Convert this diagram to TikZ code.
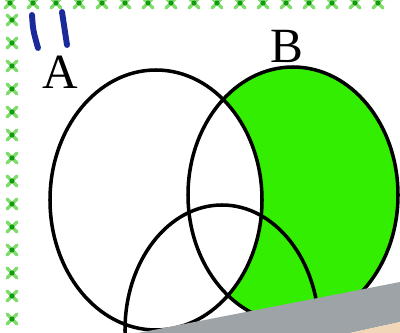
\documentclass[tikz,border=0pt]{standalone}
\usepackage{fontspec}
\setmainfont{Liberation Serif}
\definecolor{ShadeGreen}{HTML}{33EE00}
\definecolor{InkBlue}{HTML}{1A2A9A}
\definecolor{StarGreen}{HTML}{7FDC6A}
\definecolor{StarDark}{HTML}{139A13}
\definecolor{PageGray}{HTML}{9EA3A8}
\definecolor{SkinTone}{HTML}{F2D6B8}
\usepackage{tikz}
\usetikzlibrary{positioning}

\begin{document}
\begin{tikzpicture}[x=0.025cm, y=-0.025cm,
    setline/.style={line width=2.5pt, black},
    setlabel/.style={font=\fontsize{35}{35}\selectfont, inner sep=0pt},
    starmark/.style={StarGreen, line width=2.4pt, line cap=round},
    stardot/.style={StarDark},
    penstroke/.style={InkBlue, line width=4.2pt, line cap=round}]
  \useasboundingbox (0,0) rectangle (400,333);
  % shaded part: B outside A
  \fill[ShadeGreen] (293,195) ellipse [x radius=105, y radius=128];
  \fill[white] (156,200) ellipse [x radius=106, y radius=130];
  % the three sets
  \draw[setline] (156,200) ellipse [x radius=106, y radius=130];
  \draw[setline] (293,195) ellipse [x radius=105, y radius=128];
  \draw[setline] (222,330) ellipse [x radius=97, y radius=125];
  \node[setlabel] (labA) at (60,72) {A};
  \node[setlabel] (labB) at (287,46) {B};
  % page edge
  \fill[PageGray] (138,333) -- (400,282) -- (400,322) -- (350,333) -- cycle;
  \fill[SkinTone] (350,333) -- (400,322) -- (400,333) -- cycle;
  % stamped border
  \foreach \x in {10,33,...,400} {
    \draw[starmark] (\x-5,-2) -- (\x+5,8) (\x-5,8) -- (\x+5,-2);
    \fill[stardot] (\x,3) circle [radius=2.5];
  }
  \foreach \y in {20,43,...,340} {
    \draw[starmark] (7,\y-5) -- (17,\y+5) (7,\y+5) -- (17,\y-5);
    \fill[stardot] (12,\y) circle [radius=2.5];
  }
  % pen marks
  \draw[penstroke] (32,15) .. controls (33,30) .. (38,48);
  \draw[penstroke] (62,12) .. controls (65,28) .. (67,45);
\end{tikzpicture}
\end{document}
